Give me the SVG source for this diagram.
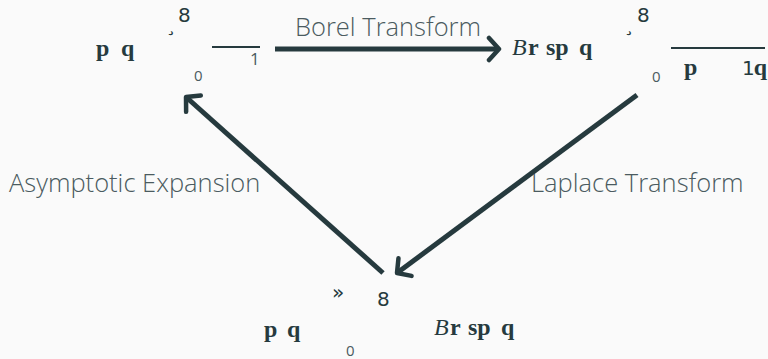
<svg xmlns="http://www.w3.org/2000/svg" width="768" height="359" viewBox="0 0 768 359">
<style>
.lbl{font-family:"Open Sans","Liberation Sans",sans-serif;font-size:25.5px;fill:#4b5b60;font-weight:300}
.bf{font-family:"Liberation Serif",serif;font-size:24px;font-weight:bold;fill:#263a3e}
.it{font-family:"Liberation Serif",serif;font-size:24px;font-style:italic;fill:#263a3e}
.sym{font-family:"DejaVu Sans","Liberation Sans",sans-serif;font-size:20px;fill:#263a3e}
.sm{font-family:"Open Sans","Liberation Sans",sans-serif;font-size:15px;fill:#4b5b60}
.ln{stroke:#263a3e;stroke-width:2;fill:none}
.cn{stroke:#263a3e;stroke-width:5;fill:none;marker-end:url(#ah)}
</style>
<defs>
<marker id="ah" markerUnits="userSpaceOnUse" viewBox="-14 -14 20 28" refX="0" refY="0" markerWidth="20" markerHeight="28" orient="auto">
<path d="M-10,-11 L0,0 L-10,11" fill="none" stroke="#263a3e" stroke-width="4.5" stroke-linecap="round" stroke-linejoin="round"/>
</marker>
</defs>
<rect width="768" height="359" fill="#fafafa"/>
<g id="node-series">
<text class="bf" x="96" y="56">p</text>
<text class="bf" x="121" y="56">q</text>
<text class="sym" x="178" y="22">8</text>
<text class="sym" x="166" y="31">¸</text>
<text class="sm" x="194" y="81">0</text>
<line class="ln" x1="212" y1="47" x2="260" y2="47"/>
<text class="sm" x="250" y="65" style="font-size:17px">1</text>
</g>
<g id="node-borel">
<text class="it" x="512" y="55">B</text>
<text class="bf" x="528" y="55">r</text>
<text class="bf" x="546" y="55">sp</text>
<text class="bf" x="579" y="55">q</text>
<text class="sym" x="637" y="22">8</text>
<text class="sym" x="624" y="31">¸</text>
<text class="sm" x="652" y="82">0</text>
<line class="ln" x1="671" y1="48" x2="765" y2="48"/>
<text class="bf" x="684" y="75">p</text>
<text class="sym" x="742" y="75">1<tspan class="bf" dx="-1">q</tspan></text>
</g>
<g id="node-laplace">
<text class="sym" x="332" y="299">»</text>
<text class="sym" x="377" y="306">8</text>
<text class="bf" x="264" y="337">p</text>
<text class="bf" x="287" y="337">q</text>
<text class="sm" x="346" y="356">0</text>
<text class="it" x="434" y="335">B</text>
<text class="bf" x="450" y="335">r</text>
<text class="bf" x="468" y="335">sp</text>
<text class="bf" x="501" y="335">q</text>
</g>
<g id="connectors">
<line class="cn" x1="275" y1="49" x2="499" y2="49"/>
<line class="cn" x1="383" y1="273" x2="186" y2="97"/>
<line class="cn" x1="637" y1="95" x2="397" y2="273"/>
<text class="lbl" x="295" y="36">Borel Transform</text>
<text class="lbl" x="9" y="192">Asymptotic Expansion</text>
<text class="lbl" x="531" y="192">Laplace Transform</text>
</g>
</svg>
